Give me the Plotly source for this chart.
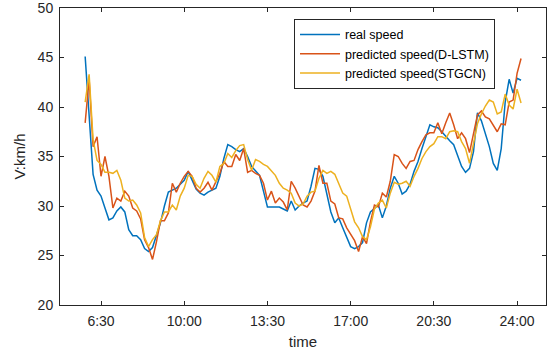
import plotly.graph_objects as go

# sample times in minutes after midnight (10-minute sampling)
times = list(range(350, 1451, 10))

real_speed = [45.1, 39.5, 33.2, 31.6, 31.0, 29.8, 28.6, 28.8, 29.5, 29.9,
              29.4, 27.6, 27.0, 27.0, 26.6, 25.7, 25.4, 25.8, 27.0, 28.3,
              30.0, 31.4, 31.6, 31.8, 32.2, 32.6, 33.5, 32.6, 31.7, 31.3,
              31.1, 31.4, 31.6, 31.8, 33.0, 34.8, 36.2, 36.0, 35.7, 35.5,
              35.8, 35.0, 34.0, 33.5, 33.1, 31.5, 29.9, 29.9, 29.9, 29.9,
              29.7, 29.5, 30.5, 29.6, 30.0, 30.3, 30.5, 32.0, 33.8, 33.7,
              33.0, 31.3, 29.4, 28.3, 28.8, 27.8, 26.8, 25.9, 25.7, 25.9,
              26.3, 28.3, 29.4, 29.8, 30.1, 28.8, 30.0, 31.8, 33.0, 32.3,
              31.2, 31.5, 32.2, 33.5, 34.5, 35.8, 37.0, 38.2, 38.0, 37.9,
              37.5, 37.0, 36.6, 36.2, 35.0, 34.0, 33.4, 33.8, 35.5, 39.4,
              38.6, 37.3, 36.0, 34.3, 33.6, 35.8, 40.5, 42.8, 41.4, 42.9,
              42.7]

pred_dlstm = [38.4, 42.8, 36.0, 37.0, 33.0, 35.0, 33.0, 29.8, 30.8, 30.5,
              31.5, 31.0, 29.8, 29.5, 28.7, 26.6, 25.8, 24.6, 26.4, 28.5,
              28.5, 29.3, 32.3, 31.4, 32.3, 33.0, 33.5, 33.0, 31.8, 31.4,
              31.8, 32.4, 31.6, 32.4, 33.3, 34.5, 34.0, 34.0, 35.2, 34.6,
              35.8, 33.4, 33.6, 33.3, 33.1, 32.3, 30.6, 31.5, 30.3, 30.8,
              30.4, 29.6, 32.5, 31.8, 30.9, 30.1, 29.9, 30.5, 31.5, 34.1,
              32.3, 32.3, 30.5, 30.2, 28.8, 28.7, 27.8, 27.1, 26.5, 25.4,
              26.9, 26.2, 28.4, 30.1, 29.9, 31.3, 30.9, 32.5, 35.2, 35.0,
              34.3, 33.8, 34.5, 34.6, 35.7, 36.5, 37.2, 37.4, 37.4, 38.4,
              37.3, 38.4, 39.4, 38.2, 36.8, 37.4, 36.8, 35.4, 37.3, 39.2,
              39.6, 39.0, 38.8, 38.2, 37.5, 38.3, 38.2, 40.5, 40.7, 43.4,
              44.9]

pred_stgcn = [40.5, 43.3, 36.7, 34.6, 34.2, 33.4, 33.4, 33.3, 33.6, 32.6,
              30.8, 30.5, 30.6, 30.1, 29.3, 26.8, 25.9, 26.6, 27.1, 28.5,
              29.4, 29.4, 30.1, 29.6, 31.0, 31.8, 33.1, 33.0, 32.2, 31.8,
              32.8, 33.5, 33.1, 32.4, 34.0, 34.3, 35.3, 34.9, 35.6, 36.1,
              36.2, 34.7, 33.6, 34.7, 34.5, 34.2, 34.0, 33.5, 33.1, 32.3,
              31.8, 31.6, 31.3, 30.3, 30.0, 30.2, 31.0, 31.4, 31.5, 32.8,
              33.6, 33.3, 33.5, 33.2, 32.2, 31.3, 31.0, 29.6, 28.4, 27.8,
              26.9, 26.6, 27.9, 29.7, 30.3, 30.6, 29.8, 31.3, 32.4, 32.2,
              32.3, 32.5, 32.0, 33.0, 33.8, 34.8, 35.5, 36.0, 36.3, 37.0,
              37.0, 36.8, 37.5, 37.6, 37.5, 36.5, 35.8, 34.3, 36.5, 38.3,
              39.3, 40.1, 40.7, 40.5, 39.3, 39.5, 41.3, 40.2, 39.8, 41.8,
              40.4]

tick_vals = [390, 600, 810, 1020, 1230, 1440]
tick_text = ["6:30", "10:00", "13:30", "17:00", "20:30", "24:00"]
y_ticks = [20, 25, 30, 35, 40, 45, 50]

series_names = ["real speed", "predicted speed(D-LSTM)", "predicted speed(STGCN)"]
series_colors = ["#0072BD", "#D95319", "#EDB120"]

fig = go.Figure()
for name, vals, col in zip(series_names, [real_speed, pred_dlstm, pred_stgcn], series_colors):
    fig.add_trace(go.Scatter(x=times, y=vals, mode="lines", name=name,
                             line=dict(color=col, width=1.5)))

axis_common = dict(showline=True, linecolor="#262626", linewidth=1, mirror="ticks",
                   ticks="inside", ticklen=4, tickcolor="#262626", showgrid=False,
                   zeroline=False, automargin=False, ticklabelstandoff=3,
                   ticklabeloverflow="allow",
                   tickfont=dict(size=14, color="#262626"))

fig.update_xaxes(range=[286.5, 1513], tickvals=tick_vals, ticktext=tick_text,
                 title=dict(text="time", font=dict(size=15, color="#262626"), standoff=8),
                 **axis_common)
fig.update_yaxes(range=[19.999, 50.001], tickvals=y_ticks,
                 title=dict(text="V:km/h", font=dict(size=15, color="#262626"), standoff=8),
                 **axis_common)

fig.update_layout(
    width=550, height=355,
    margin=dict(l=60, r=4, t=8, b=50),
    paper_bgcolor="white", plot_bgcolor="white",
    font=dict(family="Liberation Sans, Arial, sans-serif", color="#262626"),
    legend=dict(x=0.4815, y=0.963, xanchor="left", yanchor="top",
                bgcolor="white", bordercolor="#262626", borderwidth=1,
                itemwidth=40,
                font=dict(size=12.5, color="#000000"), tracegroupgap=0),
    showlegend=True,
)

fig.write_html("out.html", config={"displayModeBar": False},
               post_script="document.body.style.margin='0px';")
